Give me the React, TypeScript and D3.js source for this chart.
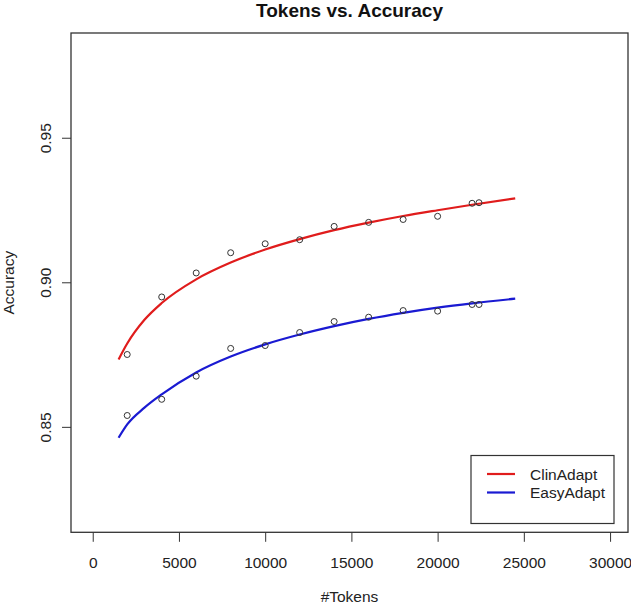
import React, { useEffect, useRef } from 'react';
import * as d3 from 'd3';

// observed points
const tokens = [2000, 4000, 6000, 8000, 10000, 12000, 14000, 16000, 18000, 20000, 22000, 22400];
const clinAcc = [0.8752, 0.8951, 0.9034, 0.9104, 0.9135, 0.9149, 0.9195, 0.9209, 0.9219, 0.9230, 0.9275, 0.9277];
const easyAcc = [0.8541, 0.8597, 0.8677, 0.8773, 0.8783, 0.8828, 0.8866, 0.8881, 0.8904, 0.8902, 0.8925, 0.8925];

// fitted curves
const fitTokens = [1500, 2000, 3000, 4000, 6000, 8000, 10000, 12000, 14000, 16000, 18000, 20000, 22000, 24500];
const clinFit = [0.8735, 0.8790, 0.8872, 0.8930, 0.9012, 0.9070, 0.9115, 0.9151, 0.9182, 0.9208, 0.9231, 0.9251, 0.9270, 0.9292];
const easyFit = [0.8464, 0.8510, 0.8568, 0.8614, 0.8690, 0.8745, 0.8787, 0.8821, 0.8850, 0.8875, 0.8896, 0.8914, 0.8929, 0.8945];

const xTicks = [0, 5000, 10000, 15000, 20000, 25000, 30000];
const yTicks = [0.85, 0.9, 0.95];
const seriesNames = ['ClinAdapt', 'EasyAdapt'];
const seriesColors = ['#e01c1c', '#1a1ad2'];

const App = () => {
  const ref = useRef(null);

  useEffect(() => {
    const width = 631;
    const height = 608;
    const left = 71;
    const right = 628;
    const top = 33;
    const bottom = 532.3;
    const font = '"Liberation Sans", Arial, sans-serif';

    const x = d3.scaleLinear().domain([-1260, 31040]).range([left, right]);
    const y = d3.scaleLinear().domain([0.8137, 0.9864]).range([bottom, top]);

    d3.select(ref.current).select('svg').remove();

    const svg = d3
      .select(ref.current)
      .append('svg')
      .attr('width', width)
      .attr('height', height)
      .style('position', 'absolute')
      .style('left', '0px')
      .style('top', '0px')
      .style('background', '#fff');

    // title
    svg
      .append('text')
      .attr('x', (left + right) / 2)
      .attr('y', 17)
      .attr('text-anchor', 'middle')
      .attr('font-family', font)
      .attr('font-weight', 'bold')
      .attr('font-size', 19)
      .attr('fill', '#111')
      .text('Tokens vs. Accuracy');

    // x axis ticks and labels
    const xg = svg.append('g').attr('transform', `translate(0,${bottom})`);
    const xAxis = d3
      .axisBottom(x)
      .tickValues(xTicks)
      .tickSizeOuter(0)
      .tickSize(9.5)
      .tickPadding(15)
      .tickFormat(d3.format('d'));
    xg.call(xAxis);
    xg.select('.domain').remove();
    xg.selectAll('line').attr('stroke', '#333');
    xg.selectAll('text')
      .attr('font-family', font)
      .attr('font-size', 15.5)
      .attr('fill', '#222');

    // y axis ticks and labels (rotated, R style)
    const yg = svg.append('g');
    yTicks.forEach(t => {
      yg.append('line')
        .attr('x1', left - 9)
        .attr('x2', left)
        .attr('y1', y(t))
        .attr('y2', y(t))
        .attr('stroke', '#333');
      yg.append('text')
        .attr('transform', `translate(51,${y(t)}) rotate(-90)`)
        .attr('text-anchor', 'middle')
        .attr('font-family', font)
        .attr('font-size', 15.5)
        .attr('fill', '#222')
        .text(d3.format('.2f')(t));
    });

    // axis titles
    svg
      .append('text')
      .attr('x', (left + right) / 2)
      .attr('y', 602)
      .attr('text-anchor', 'middle')
      .attr('font-family', font)
      .attr('font-size', 15.5)
      .attr('fill', '#222')
      .text('#Tokens');

    svg
      .append('text')
      .attr('transform', `translate(14,${(top + bottom) / 2}) rotate(-90)`)
      .attr('text-anchor', 'middle')
      .attr('font-family', font)
      .attr('font-size', 15.5)
      .attr('fill', '#222')
      .text('Accuracy');

    // fitted lines
    const line = d3
      .line()
      .x(d => x(d[0]))
      .y(d => y(d[1]))
      .curve(d3.curveMonotoneX);

    [clinFit, easyFit].forEach((vals, i) => {
      svg
        .append('path')
        .attr('d', line(fitTokens.map((t, j) => [t, vals[j]])))
        .attr('fill', 'none')
        .attr('stroke', seriesColors[i])
        .attr('stroke-width', 2.2);
    });

    // points
    [clinAcc, easyAcc].forEach(vals => {
      svg
        .append('g')
        .selectAll('circle')
        .data(tokens.map((t, j) => [t, vals[j]]))
        .enter()
        .append('circle')
        .attr('cx', d => x(d[0]))
        .attr('cy', d => y(d[1]))
        .attr('r', 3)
        .attr('fill', 'none')
        .attr('stroke', '#333')
        .attr('stroke-width', 1);
    });

    // plot box
    svg
      .append('rect')
      .attr('x', left)
      .attr('y', top)
      .attr('width', right - left)
      .attr('height', bottom - top)
      .attr('fill', 'none')
      .attr('stroke', '#333')
      .attr('stroke-width', 1.3);

    // legend
    const lg = svg.append('g');
    lg.append('rect')
      .attr('x', 471)
      .attr('y', 455.5)
      .attr('width', 143)
      .attr('height', 68)
      .attr('fill', '#fff')
      .attr('stroke', '#333')
      .attr('stroke-width', 1.2);
    seriesNames.forEach((name, i) => {
      const ly = 474 + i * 18.5;
      lg.append('line')
        .attr('x1', 487)
        .attr('x2', 515)
        .attr('y1', ly)
        .attr('y2', ly)
        .attr('stroke', seriesColors[i])
        .attr('stroke-width', 2.2);
      lg.append('text')
        .attr('x', 530)
        .attr('y', ly + 5.5)
        .attr('font-family', font)
        .attr('font-size', 15.5)
        .attr('fill', '#222')
        .text(name);
    });
  }, []);

  return <div ref={ref}></div>;
};

export default App;
